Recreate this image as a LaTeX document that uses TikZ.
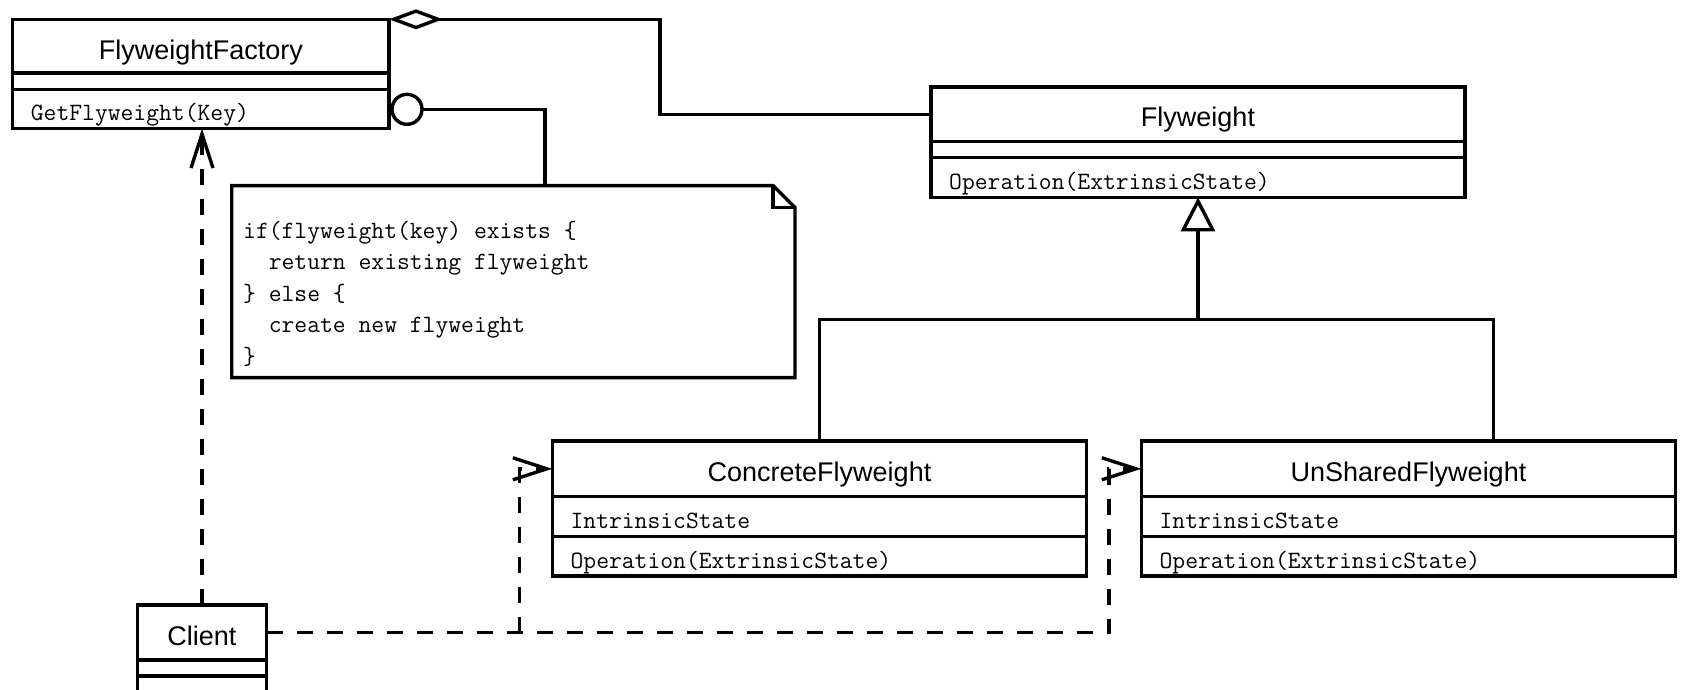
\documentclass[tikz,border=0pt]{standalone}
\usepackage{fontspec}
\setmainfont{Liberation Sans}
\usetikzlibrary{arrows.meta}

\tikzset{
  box/.style={draw, line width=3.4pt, rectangle, inner sep=0pt, outer sep=0pt, anchor=north west},
  conn/.style={line width=3.4pt},
  depline/.style={conn, dash pattern=on 16pt off 14pt, -{Straight Barb[length=34pt,width=22pt,line join=miter]}},
  classname/.style={inner sep=0pt, anchor=base, font=\fontsize{27}{32}\selectfont},
  member/.style={inner sep=0pt, anchor=base west, font=\ttfamily\fontsize{24.9}{30}\selectfont},
}

\begin{document}
\begin{tikzpicture}[x=1pt, y=-1pt]
\useasboundingbox (0,0) rectangle (1682,690);
\clip (0,0) rectangle (1682,690);

% FlyweightFactory
\node[box, minimum width=376.3, minimum height=53.7] (ffT) at (12.7,19.3) {};
\node[box, minimum width=376.3, minimum height=16.8] (ffA) at (ffT.south west) {};
\node[box, minimum width=376.3, minimum height=38.7] (ffM) at (ffA.south west) {};
\node[classname] (ffN) at ([yshift=-40pt]ffT.north) {FlyweightFactory};
\node[member] (ffOp) at ([xshift=18pt,yshift=7.6pt]ffM.south west) {GetFlyweight(Key)};

% Flyweight
\node[box, minimum width=534, minimum height=54.7] (fwT) at (931,86.9) {};
\node[box, minimum width=534, minimum height=16.1] (fwA) at (fwT.south west) {};
\node[box, minimum width=534, minimum height=39.7] (fwM) at (fwA.south west) {};
\node[classname] (fwN) at ([yshift=-40pt]fwT.north) {Flyweight};
\node[member] (fwOp) at ([xshift=18pt,yshift=7.6pt]fwM.south west) {Operation(ExtrinsicState)};

% ConcreteFlyweight
\node[box, minimum width=534.2, minimum height=55.8] (cfT) at (552.4,440.9) {};
\node[box, minimum width=534.2, minimum height=39.7] (cfA) at (cfT.south west) {};
\node[box, minimum width=534.2, minimum height=39.6] (cfM) at (cfA.south west) {};
\node[classname] (cfN) at ([yshift=-40.4pt]cfT.north) {ConcreteFlyweight};
\node[member] (cfAt) at ([xshift=18pt,yshift=7.6pt]cfA.south west) {IntrinsicState};
\node[member] (cfOp) at ([xshift=18pt,yshift=7.6pt]cfM.south west) {Operation(ExtrinsicState)};

% UnSharedFlyweight
\node[box, minimum width=534.2, minimum height=55.8] (usT) at (1141.4,440.9) {};
\node[box, minimum width=534.2, minimum height=39.7] (usA) at (usT.south west) {};
\node[box, minimum width=534.2, minimum height=39.6] (usM) at (usA.south west) {};
\node[classname] (usN) at ([yshift=-40.4pt]usT.north) {UnSharedFlyweight};
\node[member] (usAt) at ([xshift=18pt,yshift=7.6pt]usA.south west) {IntrinsicState};
\node[member] (usOp) at ([xshift=18pt,yshift=7.6pt]usM.south west) {Operation(ExtrinsicState)};

% Client
\node[box, minimum width=129.4, minimum height=55] (clT) at (137.3,605) {};
\node[box, minimum width=129.4, minimum height=16] (clA) at (clT.south west) {};
\node[box, minimum width=129.4, minimum height=40] (clM) at (clA.south west) {};
\node[classname] (clN) at ([yshift=-40.5pt]clT.north) {Client};

% Note with folded corner
\node[inner sep=0pt, outer sep=0pt, minimum width=563.3, minimum height=192, anchor=north west] (note) at (231.7,185.6) {};
\draw[conn] (note.north west) -- ([xshift=-22pt]note.north east) -- ([yshift=-22pt]note.north east)
  -- (note.south east) -- (note.south west) -- cycle;
\draw[conn] ([xshift=-22pt]note.north east) |- ([yshift=-22pt]note.north east);
\node[member] (n1) at (243,238) {if(flyweight(key) exists \{};
\node[member] (n2) at (243,269.6) {\phantom{xx}return existing flyweight};
\node[member] (n3) at (243,301.2) {\} else \{};
\node[member] (n4) at (243,332.8) {\phantom{xx}create new flyweight};
\node[member] (n5) at (243,364.4) {\}};

% Lollipop attaching the note
\node[draw, circle, line width=3.4pt, minimum size=30pt, inner sep=0pt, outer sep=0pt] (ball) at (407,109.3) {};
\coordinate (nk) at (545,185.6);
\draw[conn] (ball.east) -| (nk);

% Aggregation
\coordinate (ag) at (660,19.3);
\draw[conn, {Diamond[open,length=54pt,width=20pt]}-] (ffT.north east) -- (ag) |- (fwT.west);

% Generalization
\coordinate (jg) at (1198,319.5);
\coordinate (ju) at (1493.2,319.5);
\draw[conn, -{Triangle[open,length=34pt,width=34pt]}] (jg) -- (fwM.south);
\draw[conn] (cfT.north) |- (ju) -- (ju |- usT.north);

% Dependencies from Client
\coordinate (xu) at (1109,0);
\coordinate (xc) at (519.5,0);
\draw[depline] (clT.north) -- (clT.north |- ffM.south);
\draw[depline] (clT.east) -- (clT.east -| xu) |- (usT.west);
\draw[depline] (clT.east -| xc) |- (cfT.west);
\end{tikzpicture}
\end{document}
